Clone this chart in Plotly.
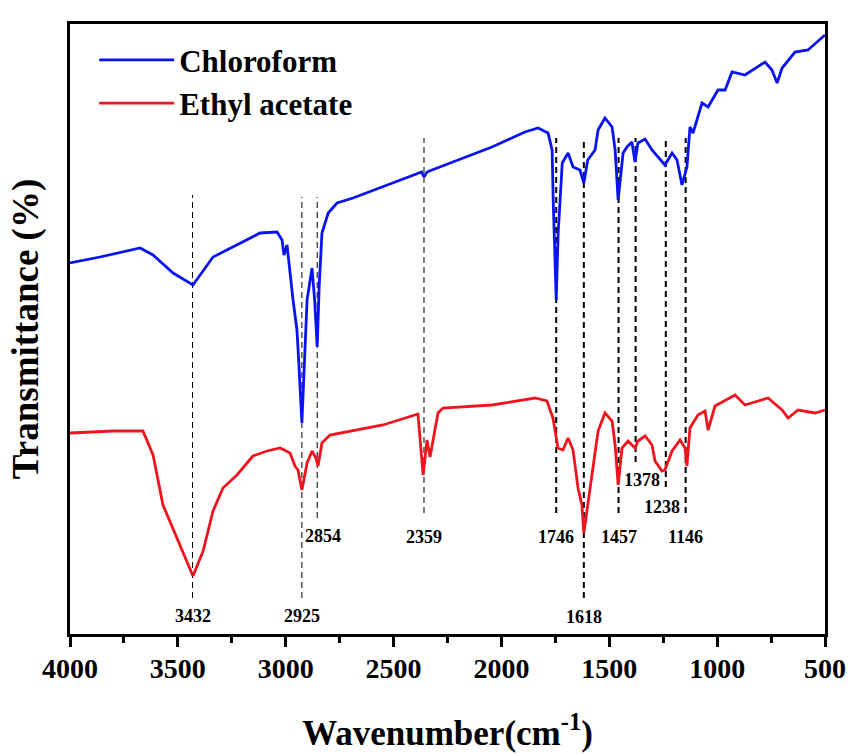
import plotly.graph_objects as go

# ---------------- data ----------------
# Transmittance in arbitrary units (higher = more transmittance)
chl_wn = [4000, 3861, 3675, 3615, 3522, 3430, 3337, 3244, 3119, 3040, 3017, 3008, 2994,
          2966, 2948, 2940, 2925, 2901, 2878, 2866, 2854, 2845, 2832, 2803, 2762, 2688,
          2391, 2370, 2359, 2345, 2322, 2201, 2044, 1891, 1830, 1784, 1765, 1760, 1746,
          1737, 1718, 1691, 1668, 1636, 1618, 1600, 1566, 1552, 1520, 1487, 1473, 1459,
          1436, 1418, 1395, 1381, 1367, 1334, 1302, 1242, 1209, 1186, 1163, 1140, 1126,
          1112, 1070, 1042, 996, 963, 931, 871, 810, 778, 746, 722, 699, 639, 579, 510, 500]
chl_t = [371, 377, 386, 379, 361, 349, 377, 387, 401, 402, 394, 379, 389,
         334, 304, 274, 211, 334, 366, 334, 287, 347, 401, 421, 431, 436,
         461, 462, 457, 462, 464, 474, 487, 502, 506, 501, 484, 434, 334,
         401, 471, 481, 467, 464, 451, 474, 484, 504, 516, 507, 484, 434,
         481, 487, 492, 472, 491, 495, 484, 469, 481, 474, 449, 467, 507,
         501, 531, 527, 544, 544, 562, 559, 567, 572, 564, 551, 566, 582, 584, 597, 599]

eth_wn = [4000, 3800, 3662, 3615, 3569, 3504, 3430, 3383, 3337, 3291, 3226, 3152, 3087,
          3026, 2980, 2957, 2943, 2925, 2901, 2878, 2860, 2850, 2832, 2795, 2702, 2549,
          2387, 2373, 2363, 2345, 2331, 2294, 2271, 2044, 1844, 1789, 1761, 1738, 1715,
          1691, 1668, 1645, 1627, 1618, 1600, 1576, 1552, 1520, 1487, 1473, 1459, 1441,
          1413, 1381, 1367, 1334, 1302, 1288, 1256, 1242, 1209, 1172, 1149, 1140, 1126,
          1089, 1056, 1042, 1010, 917, 871, 810, 764, 699, 671, 625, 546, 500]
eth_t = [201, 203, 203, 179, 129, 96, 58, 83, 123, 146, 159, 178, 183,
         186, 181, 168, 164, 144, 171, 183, 176, 168, 191, 199, 203, 209,
         220, 187, 159, 194, 177, 221, 226, 229, 236, 233, 216, 186, 184,
         196, 184, 146, 129, 101, 129, 163, 203, 221, 213, 189, 149, 186,
         193, 186, 193, 198, 189, 173, 163, 164, 183, 194, 186, 168, 206,
         219, 223, 204, 228, 239, 229, 233, 236, 224, 216, 224, 221, 224]

series_names = ["Chloroform", "Ethyl acetate"]
series_colors = ["#0a14f0", "#f0141e"]

# marked peaks
peak_wn = [3432, 2925, 2854, 2359, 1746, 1618, 1457, 1378, 1238, 1146]
peak_top = [439, 437, 437, 496, 496, 496, 496, 496, 496, 496]
peak_bot = [36, 36, 116, 121, 121, 36, 121, 172, 147, 121]
peak_w = [1, 1, 1, 1, 2, 2, 2, 2, 2, 2]
label_text = ["3432", "2925", "2854", "2359", "1746", "1618", "1457", "1378", "1238", "1146"]
label_wn = [3432, 2925, 2827, 2359, 1746, 1618, 1457, 1348, 1256, 1146]
label_t = [18, 18, 98, 97, 97, 17, 97, 154, 127, 97]

x_ticks = [4000, 3500, 3000, 2500, 2000, 1500, 1000, 500]

FONT = "Liberation Serif, Times New Roman, serif"

fig = go.Figure()
fig.add_trace(go.Scatter(x=chl_wn, y=chl_t, mode="lines", name=series_names[0],
                         line=dict(color=series_colors[0], width=2.8)))
fig.add_trace(go.Scatter(x=eth_wn, y=eth_t, mode="lines", name=series_names[1],
                         line=dict(color=series_colors[1], width=2.8)))

for wn, t0, t1, w in zip(peak_wn, peak_top, peak_bot, peak_w):
    fig.add_shape(type="line", x0=wn, x1=wn, y0=t1, y1=t0, xref="x", yref="y",
                  line=dict(color="black", width=w, dash="6px,4px"), layer="below")

for txt, wn, t in zip(label_text, label_wn, label_t):
    fig.add_annotation(x=wn, y=t, xref="x", yref="y", text=txt, showarrow=False,
                       font=dict(family=FONT, size=18, color="black", weight="bold"),
                       bgcolor="rgba(0,0,0,0)")

fig.update_layout(
    width=851, height=756,
    margin=dict(l=70, r=26, t=24, b=122, autoexpand=False),
    plot_bgcolor="white", paper_bgcolor="white",
    font=dict(family=FONT, color="black"),
    showlegend=True,
    legend=dict(x=0.032, y=0.985, xanchor="left", yanchor="top",
                bgcolor="rgba(0,0,0,0)", itemwidth=75,
                font=dict(family=FONT, size=31, color="black", weight="bold"),
                tracegroupgap=0),
)
fig.update_xaxes(
    range=[4000, 500], tickvals=x_ticks, ticktext=[str(v) for v in x_ticks],
    ticks="outside", ticklen=10, tickwidth=2.5, tickcolor="black",
    minor=dict(dtick=250, tick0=500, ticks="outside", ticklen=6, tickwidth=2.5,
               tickcolor="black"),
    showline=True, linewidth=3, linecolor="black", mirror=True,
    showgrid=False, zeroline=False, automargin=False, ticklabelstandoff=-3,
    tickfont=dict(family=FONT, size=28, color="black", weight="bold"),
    title=dict(text="Wavenumber(cm<sup>-1</sup>)", standoff=38,
               font=dict(family=FONT, size=35, color="black", weight="bold")),
)
fig.update_yaxes(
    range=[0, 610], showticklabels=False, ticks="",
    showline=True, linewidth=3, linecolor="black", mirror=True,
    showgrid=False, zeroline=False, automargin=False,
    title=dict(text="Transmittance (%)", standoff=18,
               font=dict(family=FONT, size=37, color="black", weight="bold")),
)

fig.write_html("out.html", config={"displayModeBar": False},
               post_script="document.body.style.margin='0';document.body.style.overflow='hidden';")
